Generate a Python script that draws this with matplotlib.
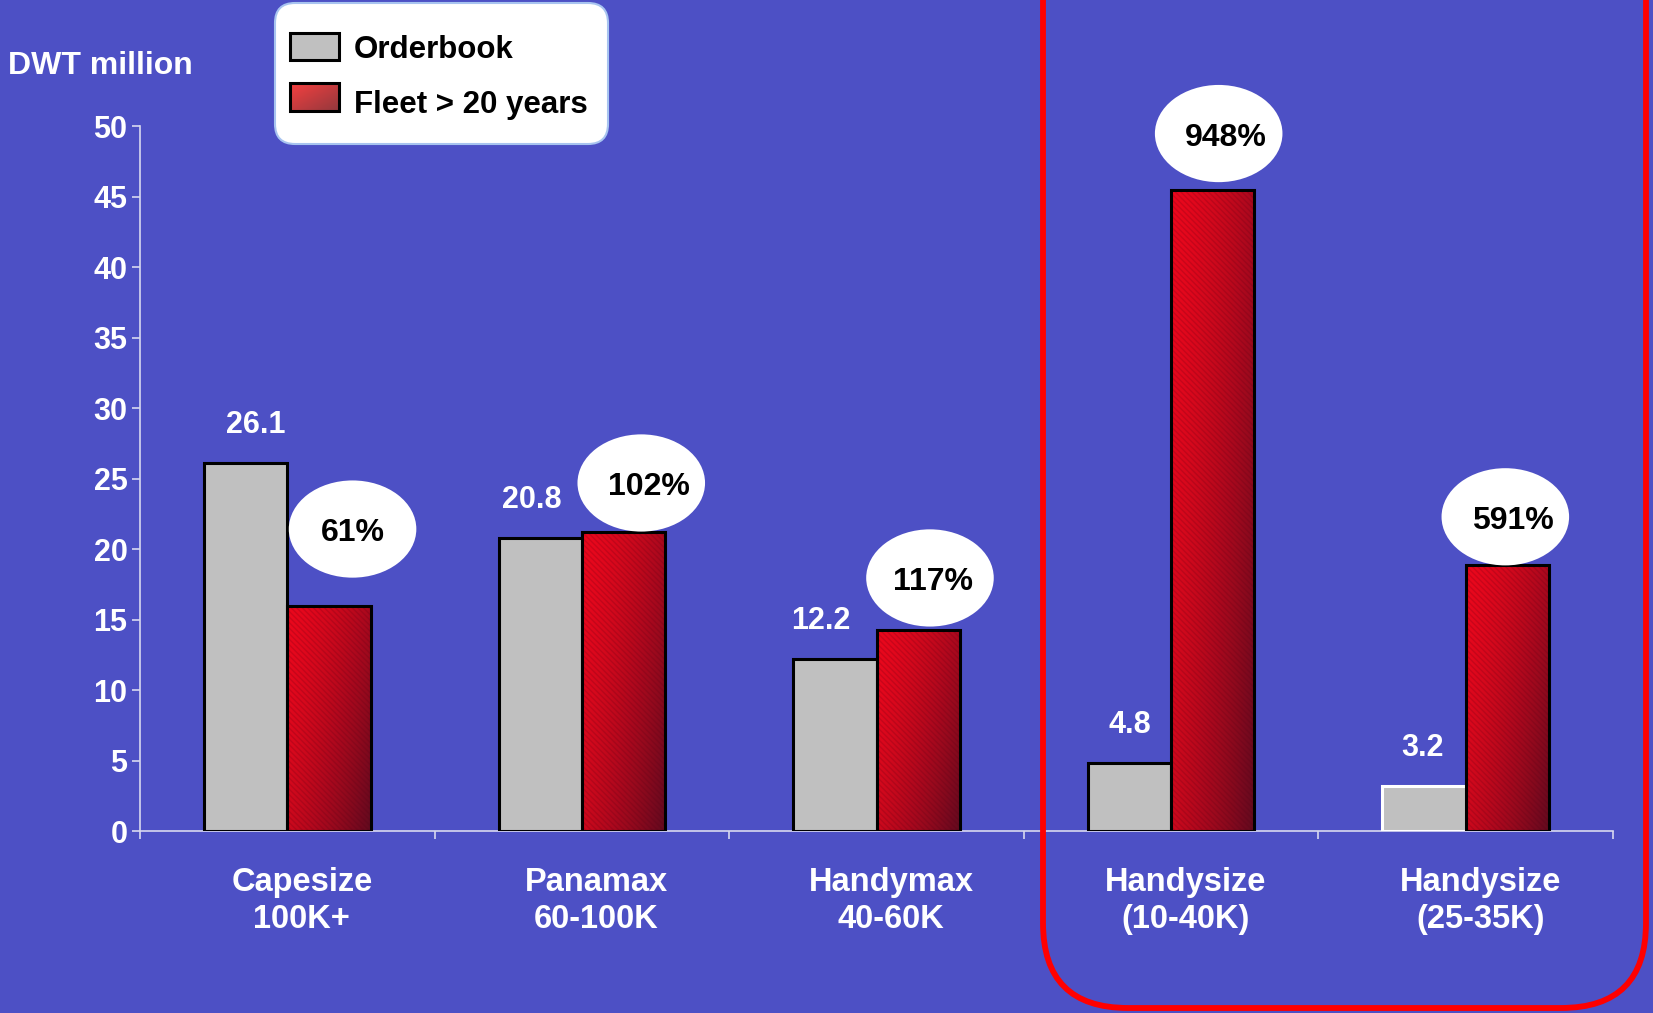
import numpy as np
import matplotlib
matplotlib.use("Agg")
import matplotlib.pyplot as plt
from matplotlib.patches import Ellipse, Rectangle, FancyBboxPatch

plt.rcParams['font.family'] = ['Liberation Sans', 'DejaVu Sans']
plt.rcParams['hatch.linewidth'] = 1.0

# ---- data -------------------------------------------------------------
categories = ["Capesize\n100K+", "Panamax\n60-100K", "Handymax\n40-60K",
              "Handysize\n(10-40K)", "Handysize\n(25-35K)"]
orderbook = [26.1, 20.8, 12.2, 4.8, 3.2]
fleet_over_20 = [16.0, 21.2, 14.3, 45.5, 18.9]
ratio_labels = ["61%", "102%", "117%", "948%", "591%"]
y_ticks = [0, 5, 10, 15, 20, 25, 30, 35, 40, 45, 50]
legend_labels = ["Orderbook", "Fleet > 20 years"]
y_label = "DWT million"

# ---- layout -----------------------------------------------------------
W, H = 1653, 1013
BG = "#4D50C5"
bar_w = 0.283
value_dx_pt = [7, -6, -10, 0, -1]          # horizontal nudge of value labels
bubble_dx = [0.08, 0.06, 0.04, 0.02, -0.007]
bubble_dy = [5.43, 3.5, 3.66, 4.0, 3.4]
bubble_text_dx = [0.0, 0.025, 0.01, 0.025, 0.025]

fig = plt.figure(figsize=(W / 100, H / 100), dpi=100, facecolor=BG)
ax = fig.add_axes([140 / W, 1 - 831 / H, (1613 - 140) / W, (831 - 126.5) / H])
ax.set_facecolor("none")

x = np.arange(len(categories)) + 0.5

gray_edges = ["black"] * (len(categories) - 1) + ["white"]
gray_bars = ax.bar(x - bar_w / 2, orderbook, width=bar_w, color="#C0C0C0",
                   edgecolor=gray_edges, linewidth=2.2, zorder=3)

red_bars = ax.bar(x + bar_w / 2, fleet_over_20, width=bar_w, facecolor="none",
                  edgecolor="black", linewidth=2.2, zorder=4)


def red_gradient(ny=240, nx=80):
    u = np.linspace(0, 1, nx)[None, :]
    r = np.linspace(0, 1, ny)[:, None]
    t = np.clip(0.62 * u + 0.38 * r, 0, 1) ** 1.55
    c0 = np.array([0.92, 0.03, 0.11])
    c1 = np.array([0.38, 0.04, 0.12])
    return c0[None, None, :] * (1 - t[..., None]) + c1[None, None, :] * t[..., None]


grad = red_gradient()
for bar in red_bars:
    x0, y0 = bar.get_x(), bar.get_y()
    w, h = bar.get_width(), bar.get_height()
    im = ax.imshow(grad, extent=(x0, x0 + w, y0, y0 + h), origin="upper",
                   aspect="auto", interpolation="bilinear", zorder=3.4)
    im.set_clip_path(bar)

# fine diagonal texture on the red bars
ax.bar(x + bar_w / 2, fleet_over_20, width=bar_w, facecolor="none",
       edgecolor=(0.30, 0.0, 0.08, 0.18), hatch="\\\\\\\\\\\\", linewidth=0, zorder=3.6)

ax.set_xlim(0, len(categories))
ax.set_ylim(0, 50)

# value labels above the orderbook bars
for xi, v, dx in zip(x, orderbook, value_dx_pt):
    ax.annotate(f"{v:.1f}", xy=(xi - bar_w / 2, v), xytext=(dx, 27.5),
                textcoords="offset points", ha="center", va="center",
                color="white", fontsize=22, fontweight="bold", zorder=6)

# ratio bubbles above the old-fleet bars
for xi, v, lab, dx, dy, tdx in zip(x, fleet_over_20, ratio_labels,
                                    bubble_dx, bubble_dy, bubble_text_dx):
    cx, cy = xi + bar_w / 2 + dx, v + dy
    ax.add_patch(Ellipse((cx, cy), 0.433, 6.9, facecolor="white",
                         edgecolor="none", zorder=5, clip_on=False))
    ax.text(cx + tdx, cy - 0.3, lab, ha="center", va="center", fontsize=23,
            fontweight="bold", color="black", zorder=6)

# category labels
for xi, cat in zip(x, categories):
    ax.annotate(cat, xy=(xi, 0), xytext=(10.5, -50.5), textcoords="offset points",
                ha="center", va="center", multialignment="center",
                color="white", fontsize=23.5, fontweight="bold", linespacing=1.25)

# axes styling
axis_col = "#D8D8F0"
for s in ["top", "right"]:
    ax.spines[s].set_visible(False)
for s in ["left", "bottom"]:
    ax.spines[s].set_color(axis_col)
    ax.spines[s].set_linewidth(1.2)
ax.set_yticks(y_ticks)
ax.set_xticks(np.arange(len(categories) + 1))
ax.set_xticklabels([])
ax.tick_params(axis="y", colors=axis_col, labelcolor="white", length=6,
               width=1.2, direction="out", labelsize=22, pad=3)
ax.tick_params(axis="x", colors=axis_col, length=6, width=1.2, direction="out")
for lab in ax.get_yticklabels():
    lab.set_fontweight("bold")

fig.text(8 / W, 1 - 66 / H, y_label, ha="left", va="center", fontsize=23,
         fontweight="bold", color="white")

# overlay in pixel coordinates for the legend and the highlight frame
ov = fig.add_axes([0, 0, 1, 1])
ov.axis("off")

ov.add_patch(FancyBboxPatch((1043, -200), 1646 - 1043, 1008 + 200,
                            boxstyle="round,pad=0,rounding_size=85",
                            facecolor="none", edgecolor="#FF0000",
                            linewidth=4.2, clip_on=False))

ov.add_patch(FancyBboxPatch((275, 3), 333, 141,
                            boxstyle="round,pad=0,rounding_size=20",
                            facecolor="white", edgecolor="#A8C4F0",
                            linewidth=1.5, zorder=2))
ov.add_patch(Rectangle((290, 33), 49, 27, facecolor="#C0C0C0",
                       edgecolor="black", linewidth=2.2, zorder=3))
u = np.linspace(0, 1, 40)[None, :]
r = np.linspace(0, 1, 24)[:, None]
t = np.clip(0.5 * u + 0.5 * r, 0, 1)
lg0 = np.array([0.96, 0.25, 0.25])
lg1 = np.array([0.58, 0.22, 0.24])
lg = lg0[None, None, :] * (1 - t[..., None]) + lg1[None, None, :] * t[..., None]
ov.imshow(lg, extent=(290, 339, 111, 83), origin="upper", aspect="auto",
          interpolation="bilinear", zorder=3)
ov.add_patch(Rectangle((290, 83), 49, 28, facecolor="none",
                       edgecolor="black", linewidth=2.2, zorder=4))
ov.set_xlim(0, W)
ov.set_ylim(H, 0)
ov.text(354, 50, legend_labels[0], ha="left", va="center", fontsize=22.5,
        fontweight="bold", color="black", zorder=5)
ov.text(354, 105, legend_labels[1], ha="left", va="center", fontsize=22.5,
        fontweight="bold", color="black", zorder=5)

fig.savefig("out.png", dpi=100, facecolor=BG)
